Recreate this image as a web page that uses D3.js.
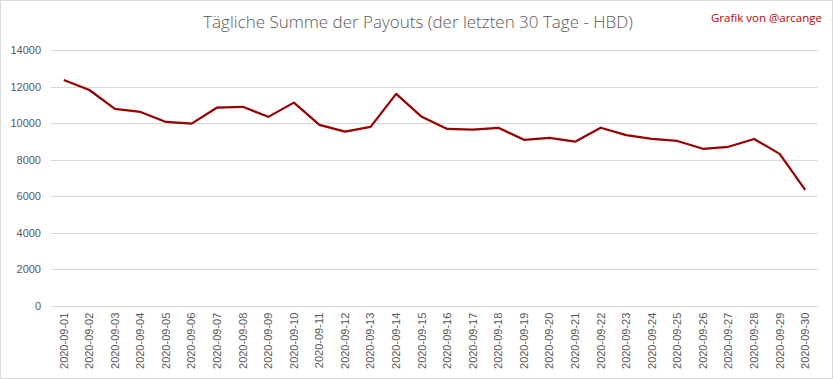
<!DOCTYPE html>
<html lang="de">
<head>
<meta charset="UTF-8">
<title>Tägliche Summe der Payouts</title>
<style>
  body { margin: 0; background: #fff; }
  svg { display: block; font-family: "Open Sans", "Liberation Sans", sans-serif; }
  .grid line { stroke: #d9d9d9; stroke-width: 1; }
  .axis text { fill: #595959; font-size: 11px; }
</style>
</head>
<body>
<script src="https://d3js.org/d3.v7.min.js"></script>
<script>
var dates = ["2020-09-01","2020-09-02","2020-09-03","2020-09-04","2020-09-05","2020-09-06",
  "2020-09-07","2020-09-08","2020-09-09","2020-09-10","2020-09-11","2020-09-12","2020-09-13",
  "2020-09-14","2020-09-15","2020-09-16","2020-09-17","2020-09-18","2020-09-19","2020-09-20",
  "2020-09-21","2020-09-22","2020-09-23","2020-09-24","2020-09-25","2020-09-26","2020-09-27",
  "2020-09-28","2020-09-29","2020-09-30"];
var payouts = [12360, 11810, 10780, 10610, 10060, 9970, 10850, 10890, 10340, 11120,
  9900, 9530, 9790, 11600, 10340, 9680, 9640, 9740, 9080, 9190,
  8980, 9740, 9340, 9130, 9020, 8590, 8700, 9130, 8310, 6340];
var yTicks = [0, 2000, 4000, 6000, 8000, 10000, 12000, 14000];

var width = 833, height = 379,
    plotLeft = 51, plotRight = 818, plotTop = 50, plotBottom = 305.7;

var svg = d3.select("body").append("svg")
    .attr("width", width)
    .attr("height", height);

svg.append("rect")
    .attr("x", 0.5).attr("y", 0.5)
    .attr("width", width - 1).attr("height", height - 1)
    .attr("fill", "#fff").attr("stroke", "#d9d9d9");

var x = d3.scaleBand().domain(dates).range([plotLeft, plotRight]);
var y = d3.scaleLinear().domain([0, 14000]).range([plotBottom, plotTop]);

// gridlines
svg.append("g").attr("class", "grid")
  .selectAll("line").data(yTicks).join("line")
    .attr("x1", plotLeft).attr("x2", plotRight)
    .attr("y1", function(d) { return Math.round(y(d)) + 0.5; })
    .attr("y2", function(d) { return Math.round(y(d)) + 0.5; });

// y axis
var yAxis = svg.append("g").attr("class", "axis")
    .attr("transform", "translate(" + (plotLeft - 10) + ",0)")
    .call(d3.axisLeft(y).tickValues(yTicks).tickSize(0).tickPadding(0).tickFormat(d3.format("d")));
yAxis.select(".domain").remove();

// x axis
var xAxis = svg.append("g").attr("class", "axis")
    .attr("transform", "translate(0," + plotBottom + ")")
    .call(d3.axisBottom(x).tickSize(0).tickPadding(0));
xAxis.select(".domain").remove();
xAxis.selectAll("text")
    .attr("transform", "rotate(-90)")
    .attr("text-anchor", "end")
    .attr("x", -7)
    .attr("y", 0)
    .attr("dy", "0.35em");

// line
var line = d3.line()
    .x(function(d, i) { return x(dates[i]) + x.bandwidth() / 2; })
    .y(function(d) { return y(d); });

svg.append("path")
    .datum(payouts)
    .attr("fill", "none")
    .attr("stroke", "#960000")
    .attr("stroke-width", 2.2)
    .attr("stroke-linejoin", "round")
    .attr("d", line);

// title
svg.append("text")
    .attr("x", 418).attr("y", 28)
    .attr("text-anchor", "middle")
    .attr("fill", "#595959")
    .attr("font-size", "17px")
    .attr("font-weight", 300)
    .text("Tägliche Summe der Payouts (der letzten 30 Tage - HBD)");

svg.append("text")
    .attr("x", 822).attr("y", 22)
    .attr("text-anchor", "end")
    .attr("fill", "#c00000")
    .attr("font-size", "11.5px")
    .text("Grafik von @arcange");
</script>
</body>
</html>
